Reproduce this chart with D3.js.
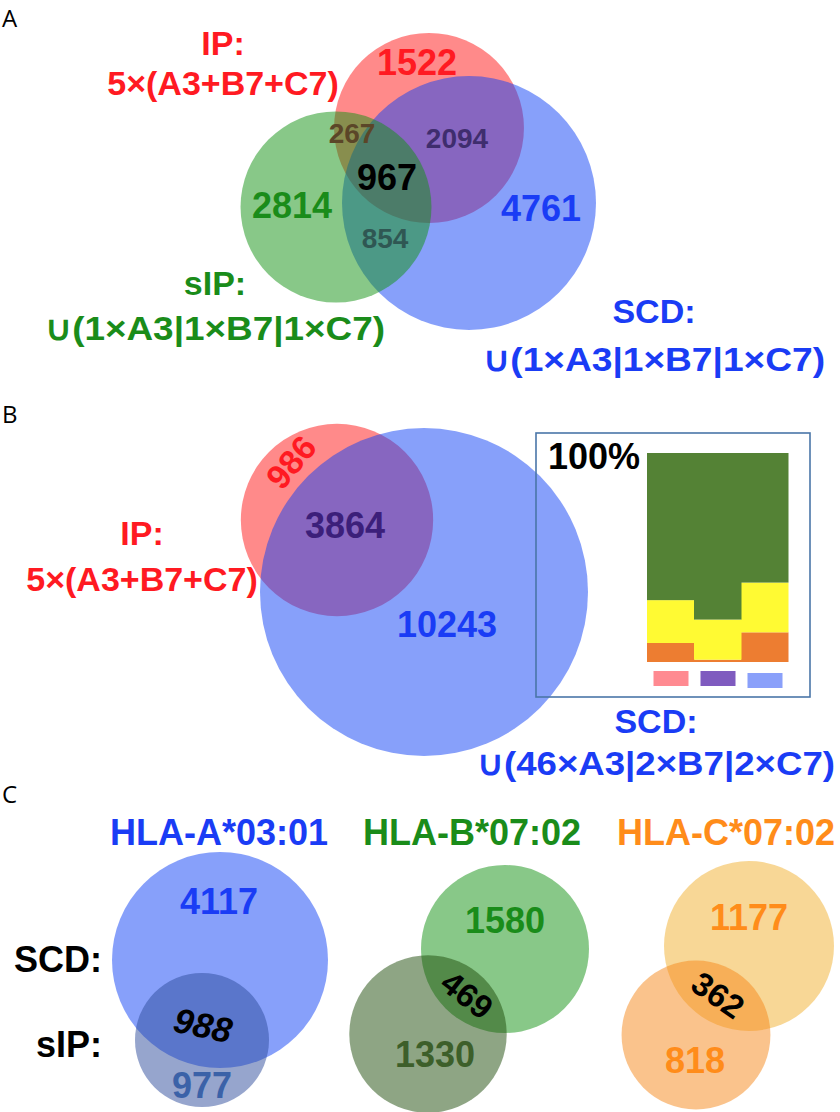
<!DOCTYPE html>
<html><head><meta charset="utf-8">
<script src="https://cdn.jsdelivr.net/npm/d3@7"></script>
<style>body{margin:0;background:#fff} svg{display:block}</style>
</head><body>
<svg id="c" width="840" height="1112"></svg>
<script>
// ---------------- DATA ----------------
// Panel A: three-set Venn, region counts
const vennA_sets    = ["IP", "SCD", "sIP"];
const vennA_regions = ["IP", "IP∩SCD", "SCD", "IP∩sIP", "IP∩SCD∩sIP", "SCD∩sIP", "sIP"];
const vennA_counts  = [1522, 2094, 4761, 267, 967, 854, 2814];
const vennA_titles  = [["IP:", "5×(A3+B7+C7)"], ["SCD:", "∪(1×A3|1×B7|1×C7)"], ["sIP:", "∪(1×A3|1×B7|1×C7)"]];
// Panel B: two-set Venn
const vennB_sets    = ["IP", "SCD"];
const vennB_regions = ["IP", "IP∩SCD", "SCD"];
const vennB_counts  = [986, 3864, 10243];
const vennB_titles  = [["IP:", "5×(A3+B7+C7)"], ["SCD:", "∪(46×A3|2×B7|2×C7)"]];
// Panel B inset: 100% stacked bars for the three regions
const insetCategories = ["IP only", "IP∩SCD", "SCD only"];
const insetSeriesKeys = ["orange", "yellow", "green"];
const insetOrange = [9.1, 1.1, 14.2];
const insetYellow = [20.5, 19.2, 23.8];
const insetGreen  = [70.4, 79.7, 62.0];
const insetTopLabel = "100%";
// Panel C: per-allele two-set Venns (SCD vs sIP)
const alleles   = ["HLA-A*03:01", "HLA-B*07:02", "HLA-C*07:02"];
const scdOnly   = [4117, 1580, 1177];
const shared    = [988, 469, 362];
const sipOnly   = [977, 1330, 818];
const rowLabels = ["SCD:", "sIP:"];
const panelLetters = ["A", "B", "C"];

// ---------------- LAYOUT / STYLE ----------------
const svg = d3.select("#c");
const BOLD = "'Liberation Sans', Arial, sans-serif";
const LETTER = "'Open Sans', 'DejaVu Sans', sans-serif";
const C = {
  red: "#ff1a22", green: "#1a8c1a", blue: "#1a3cf5", orange: "#ff8c1a",
  redFill: "rgb(255,21,21)", blueFill: "rgb(15,65,245)", greenFill: "rgb(17,145,17)"
};
const NUM = 36;

function text(g, x, y, s, o = {}) {
  const t = g.append("text")
    .attr("x", x).attr("y", y)
    .attr("text-anchor", o.anchor || "middle")
    .attr("font-family", o.family || BOLD)
    .attr("font-weight", o.weight || "bold")
    .attr("font-size", o.size || NUM)
    .attr("fill", o.fill || "#000")
    .text(s);
  if (o.italic) t.attr("font-style", "italic");
  if (o.rotate !== undefined) t.attr("transform", `rotate(${o.rotate},${x},${y})`).attr("dominant-baseline", "central");
  if (o.len) t.attr("textLength", o.len).attr("lengthAdjust", "spacingAndGlyphs");
  return t;
}
function circle(g, cx, cy, r, fill, op = 0.5) {
  g.append("circle").attr("cx", cx).attr("cy", cy).attr("r", r)
    .attr("fill", fill).attr("fill-opacity", op);
}

// Panel letters
[[2, 27], [2, 423], [2, 803]].forEach((p, i) =>
  text(svg, p[0], p[1], panelLetters[i], {anchor: "start", family: LETTER, weight: "normal", size: 24}));

// ---------- Panel A ----------
{
  const g = svg.append("g");
  const cnt = Object.fromEntries(vennA_regions.map((k, i) => [k, vennA_counts[i]]));
  const totals = vennA_sets.map(s => d3.sum(vennA_regions.filter(k => k.split("∩").includes(s)), k => cnt[k]));
  const r = d3.scaleSqrt().domain([0, d3.max(totals)]).range([0, 127]);
  const centers = {IP: [429, 128], SCD: [469, 203], sIP: [336, 207]};
  const fills = {IP: C.redFill, SCD: C.blueFill, sIP: C.greenFill};
  vennA_sets.forEach((s, i) => circle(g, centers[s][0], centers[s][1], r(totals[i]), fills[s]));
  const lab = {
    "IP": [417, 75, C.red, NUM], "IP∩SCD": [457, 148, "#3f2d6e", 28], "SCD": [541, 221, C.blue, NUM],
    "IP∩sIP": [352, 143, "#5b4628", 28], "IP∩SCD∩sIP": [387, 190, "#000", NUM],
    "SCD∩sIP": [385, 248, "#2f5753", 28], "sIP": [292, 218, C.green, NUM]
  };
  vennA_regions.forEach(k => { const l = lab[k]; text(g, l[0], l[1], cnt[k], {fill: l[2], size: l[3]}); });
  const tpos = {IP: [223, 55, 95, C.red, null], SCD: [654, 323, 371, C.blue, 342], sIP: [215, 295, 340, C.green, 340]};
  vennA_sets.forEach((s, i) => {
    const p = tpos[s];
    text(g, p[0], p[1], vennA_titles[i][0], {fill: p[3], size: 34});
    text(g, p[0], p[2], vennA_titles[i][1], {fill: p[3], size: 34, len: p[4]});
  });
}

// ---------- Panel B ----------
{
  const g = svg.append("g");
  const cnt = Object.fromEntries(vennB_regions.map((k, i) => [k, vennB_counts[i]]));
  const totals = vennB_sets.map(s => d3.sum(vennB_regions.filter(k => k.split("∩").includes(s)), k => cnt[k]));
  const r = d3.scaleSqrt().domain([0, d3.max(totals)]).range([0, 164]);
  const centers = {IP: [337, 520], SCD: [424, 592]};
  const fills = {IP: C.redFill, SCD: C.blueFill};
  vennB_sets.forEach((s, i) => circle(g, centers[s][0], centers[s][1], r(totals[i]), fills[s]));
  text(g, 291, 462, cnt["IP"], {fill: C.red, size: 34, rotate: -50});
  text(g, 345, 538, cnt["IP∩SCD"], {fill: "#3c1f7a", size: NUM});
  text(g, 447, 637, cnt["SCD"], {fill: C.blue, size: NUM});
  text(g, 142, 545, vennB_titles[0][0], {fill: C.red, size: 34});
  text(g, 142, 591, vennB_titles[0][1], {fill: C.red, size: 34});
  text(g, 656, 733, vennB_titles[1][0], {fill: C.blue, size: 34});
  text(g, 656, 775, vennB_titles[1][1], {fill: C.blue, size: 34, len: 358});

  // inset stacked bar
  const ig = svg.append("g");
  ig.append("rect").attr("x", 536).attr("y", 433).attr("width", 274).attr("height", 264)
    .attr("fill", "none").attr("stroke", "#4a76a8").attr("stroke-width", 1.6);
  const rows = insetCategories.map((c, i) => ({cat: c, orange: insetOrange[i], yellow: insetYellow[i], green: insetGreen[i]}));
  const stack = d3.stack().keys(insetSeriesKeys)(rows);
  const x = d3.scaleBand().domain(insetCategories).range([647, 788]).padding(0);
  const y = d3.scaleLinear().domain([0, 100]).range([662, 453]);
  const sc = {orange: "#ed7d31", yellow: "#fffa33", green: "#548235"};
  stack.forEach(layer => {
    ig.selectAll(null).data(layer).enter().append("rect")
      .attr("x", d => x(d.data.cat)).attr("width", x.bandwidth() + 0.5)
      .attr("y", d => y(d[1])).attr("height", d => y(d[0]) - y(d[1]))
      .attr("fill", sc[layer.key]);
  });
  text(ig, 548, 469, insetTopLabel, {anchor: "start", size: 36});
  const swatch = ["#ff8a91", "#7f5bbf", "#8aa0fa"];
  const sw = 35;
  insetCategories.forEach((c, i) => {
    ig.append("rect").attr("x", x(c) + (x.bandwidth() - sw) / 2 + 0.5).attr("y", i === 2 ? 673 : 671)
      .attr("width", sw).attr("height", 15).attr("fill", swatch[i]);
  });
}

// ---------- Panel C ----------
{
  const g = svg.append("g");
  const titleX = [219, 472, 726];
  const titleFill = [C.blue, C.green, C.orange];
  const scdC = [[220, 960], [505, 949], [749, 946]];
  const sipC = [[202, 1040], [428, 1034], [696, 1035]];
  const rMax = [108, 84, 85];
  const scdFill = ["rgb(15,65,245)", "rgb(17,145,17)", "rgb(241,175,45)"];
  const sipFill = ["rgb(45,75,155)", "rgb(30,75,10)", "rgb(245,135,25)"];
  const scdText = [C.blue, C.green, C.orange];
  const sipText = ["#3b62a8", "#3d5f2a", C.orange];
  const sharedPos = [[203, 1025, 12], [467, 995, 38], [718, 995, 35]];
  const scdPos = [[219, 914], [505, 933], [749, 930]];
  const sipPos = [[202, 1098], [435, 1067], [695, 1073]];
  alleles.forEach((a, i) => {
    const scdTot = scdOnly[i] + shared[i], sipTot = sipOnly[i] + shared[i];
    const r = d3.scaleSqrt().domain([0, Math.max(scdTot, sipTot)]).range([0, rMax[i]]);
    text(g, titleX[i], 845, a, {fill: titleFill[i], size: 36});
    circle(g, scdC[i][0], scdC[i][1], r(scdTot), scdFill[i]);
    circle(g, sipC[i][0], sipC[i][1], r(sipTot), sipFill[i]);
    text(g, scdPos[i][0], scdPos[i][1], scdOnly[i], {fill: scdText[i], size: NUM});
    text(g, sipPos[i][0], sipPos[i][1], sipOnly[i], {fill: sipText[i], size: NUM});
    text(g, sharedPos[i][0], sharedPos[i][1], shared[i],
      {fill: "#000", size: i === 0 ? 35 : 33, rotate: sharedPos[i][2], italic: i === 0});
  });
  text(g, 102, 972, rowLabels[0], {anchor: "end", size: 36});
  text(g, 102, 1057, rowLabels[1], {anchor: "end", size: 36});
}
</script>
</body></html>
